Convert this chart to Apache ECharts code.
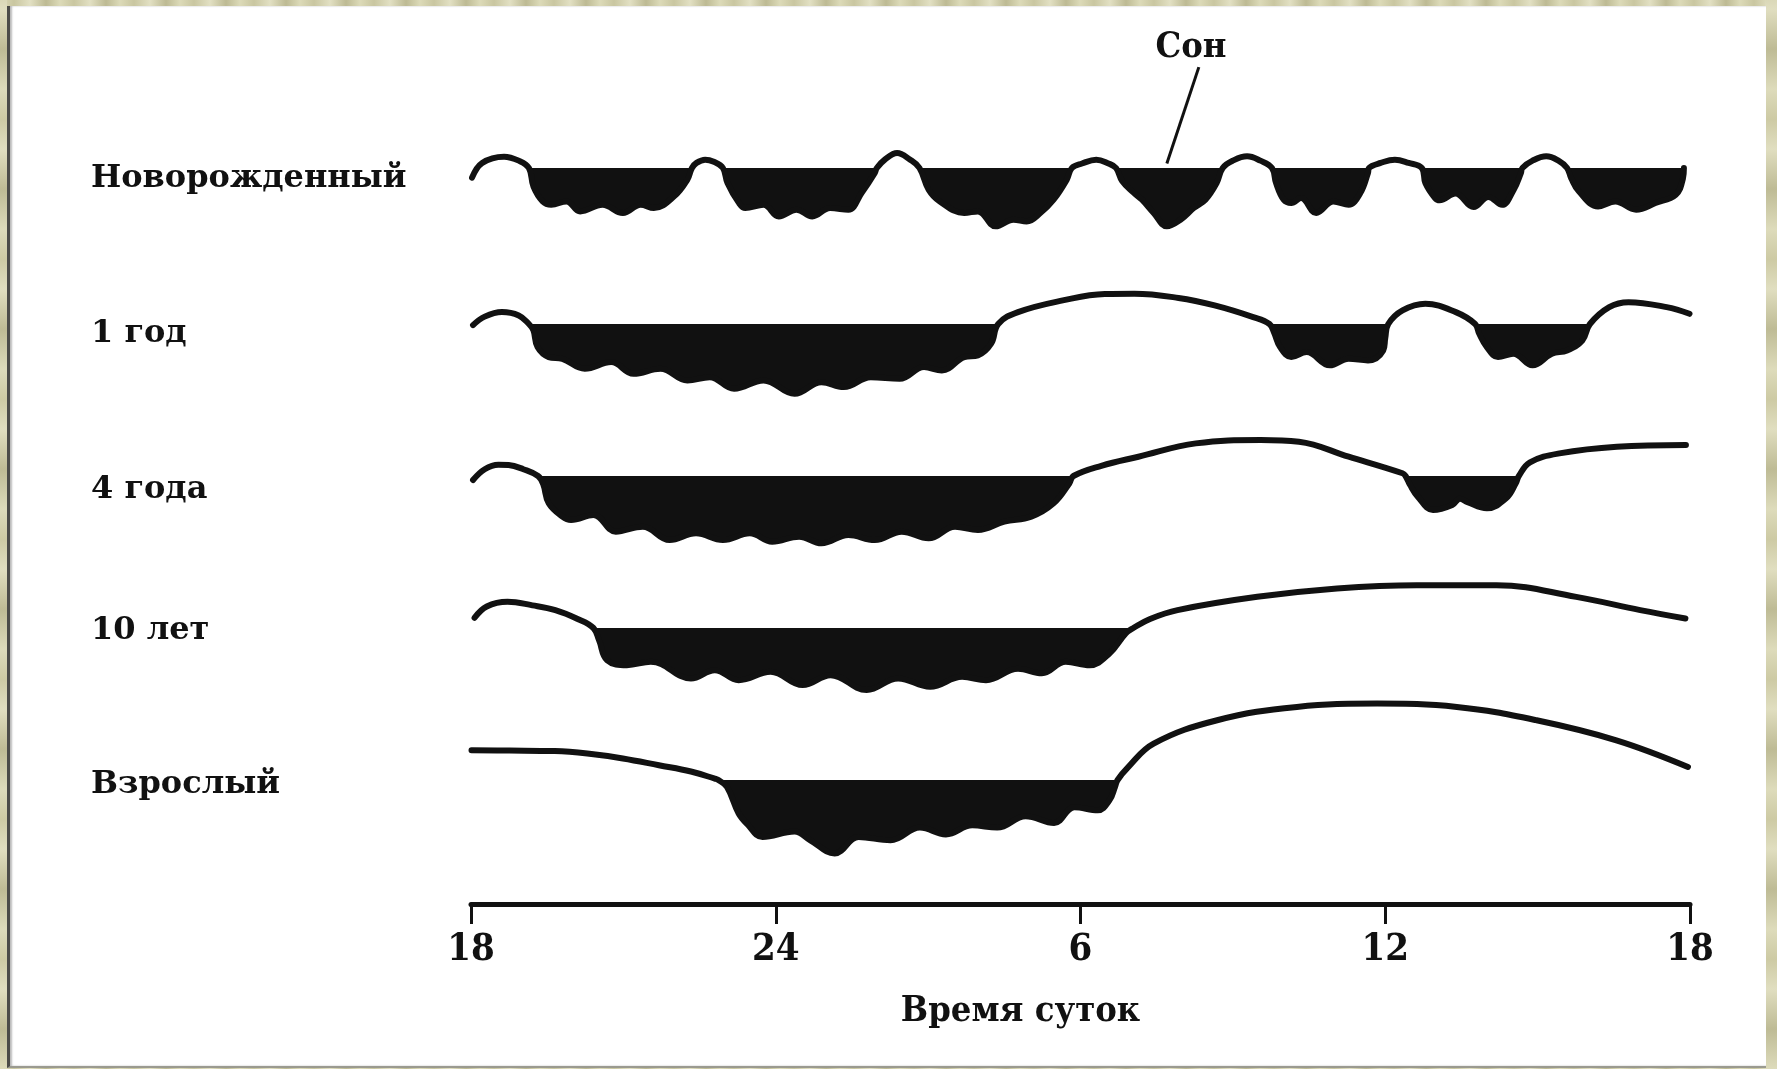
<!DOCTYPE html>
<html>
<head>
<meta charset="utf-8">
<title>Сон</title>
<script src="https://cdn.jsdelivr.net/npm/echarts/dist/echarts.min.js"></script>
<style>
html, body { margin: 0; padding: 0; width: 1777px; height: 1069px; overflow: hidden; }
body {
    background: repeating-linear-gradient(90deg, #dcdab8 0px, #c9c6a0 14px, #e2e0c3 30px, #bdba93 46px, #dcdab8 60px);
}
.band { position: absolute; top: 0; height: 1069px;
    background: repeating-linear-gradient(0deg, #dddbbb 0px, #bebb95 40px, #e0dec0 80px, #cdcaa4 110px, #dddbbb 140px); }
.panel { position: absolute; left: 7px; top: 6px; width: 1756px; height: 1060px; background: #fff;
    border-left: 3px solid #4b4b48; box-shadow: inset 2px 0 2px #bbb; border-bottom: 2px solid #9a9a90; }
#chart { position: absolute; left: 0; top: 0; width: 1777px; height: 1069px; }
</style>
</head>
<body>
<div class="band" style="left:0;width:7px"></div>
<div class="band" style="left:1765px;width:12px"></div>
<div class="panel"></div>
<div id="chart"></div>
<script>
// возраст (подписи строк)
var rowNames = ['Новорожденный', '1 год', '4 года', '10 лет', 'Взрослый'];
// подписи оси времени: часы от 18:00 до 18:00
var tickLabels = ['18', '24', '6', '12', '18'];

// [часы от 18:00, уровень]; уровень > 0 - бодрствование, < 0 - сон
var newborn = [
    [0.02, -8.5], [0.22, 4.5], [0.65, 10], [0.94, 6.5], [1.14, 0],
    [1.23, -16.5], [1.41, -29.5], [1.58, -32.4], [1.88, -29.5], [2.15, -38.3], [2.59, -32.4], [2.99, -39.7], [3.34, -32.4], [3.60, -35.3], [4.00, -25], [4.26, -10.3], [4.35, 0],
    [4.44, 4.5], [4.61, 7.3], [4.78, 5.5], [4.96, 0],
    [5.05, -13.3], [5.27, -30.5], [5.40, -35.3], [5.76, -32.4], [6.06, -42.7], [6.41, -36.8], [6.72, -42.7], [7.07, -35.3], [7.43, -36.8], [7.69, -22.1], [7.95, -4.4], [7.99, 0],
    [8.15, 7.5], [8.39, 13.2], [8.64, 7.5], [8.83, 0],
    [9.01, -19.1], [9.23, -29.5], [9.71, -39.7], [9.98, -38.3], [10.33, -51.5], [10.68, -45.6], [10.94, -47.1], [11.21, -39.7], [11.47, -28], [11.73, -10.3], [11.83, 0],
    [12.03, 4], [12.31, 7.3], [12.55, 4], [12.70, 0],
    [12.82, -11.5], [13.04, -21.5], [13.21, -28], [13.44, -39.7], [13.70, -51.5], [13.97, -45.6], [14.23, -35.3], [14.46, -28], [14.68, -13.3], [14.80, 0],
    [15.00, 6.5], [15.28, 10.3], [15.54, 6.5], [15.77, 0],
    [15.85, -13.3], [16.00, -28], [16.15, -30.9], [16.34, -26.5], [16.64, -39.7], [16.98, -29.5], [17.28, -32.4], [17.51, -22.1], [17.66, -4.4], [17.68, 0],
    [17.91, 4.5], [18.19, 7.3], [18.46, 4.5], [18.72, 0],
    [18.79, -13.3], [18.98, -26.5], [19.07, -28.5], [19.38, -22.5], [19.74, -34.5], [20.03, -25.5], [20.30, -32.5], [20.53, -19.1], [20.67, -4.5], [20.70, 0],
    [20.90, 6.5], [21.17, 10.3], [21.41, 6.5], [21.58, 0],
    [21.66, -8.9], [21.81, -20.5], [22.19, -33.9], [22.53, -29.5], [22.94, -36.8], [23.32, -30.9], [23.72, -23.5], [23.86, -9.5], [23.88, 0]
];
var year1 = [
    [0.04, -1], [0.27, 6.5], [0.61, 10.5], [0.94, 7.5], [1.14, 0],
    [1.23, -5.7], [1.31, -20.4], [1.53, -29.2], [1.80, -30.7], [2.24, -39.5], [2.76, -33.6], [3.20, -43.9], [3.73, -39.5], [4.26, -49.8], [4.70, -46.9], [5.18, -57.1], [5.76, -49.8], [6.37, -61.6], [6.90, -51.3], [7.34, -55.7], [7.87, -46.9], [8.44, -48.3], [8.92, -38], [9.27, -41], [9.71, -29.2], [9.98, -27.7], [10.24, -17.4], [10.38, 0],
    [10.77, 10.5], [11.65, 20.8], [12.48, 26.5], [13.06, 26.7], [13.93, 23], [14.64, 16.4], [15.40, 6.1], [15.72, 0],
    [15.81, -7.5], [15.93, -20.4], [16.15, -29.2], [16.45, -24.8], [16.91, -36.5], [17.28, -30.7], [17.66, -32.1], [17.96, -23.3], [18.00, -12.5], [18.06, 0],
    [18.34, 12], [18.79, 17.9], [19.39, 10.5], [19.77, 0],
    [19.85, -8.6], [20.00, -20.4], [20.22, -29.2], [20.52, -26.3], [20.90, -36.5], [21.28, -26.3], [21.58, -23.3], [21.88, -14.5], [22.03, 0],
    [22.41, 14.9], [22.79, 19.3], [23.54, 14.9], [23.99, 9]
];
var year4 = [
    [0.04, -3.5], [0.27, 6], [0.54, 10], [0.74, 9.7], [1.03, 6], [1.32, 0],
    [1.42, -7], [1.53, -24.1], [1.80, -35.9], [1.97, -38.8], [2.41, -34.4], [2.85, -49.1], [3.38, -44.7], [3.91, -56.5], [4.43, -50.6], [4.96, -56.5], [5.49, -50.6], [5.93, -58], [6.46, -53.5], [6.90, -59.4], [7.43, -52.1], [7.95, -56.5], [8.48, -49.1], [9.01, -55], [9.53, -44.7], [9.98, -47.6], [10.50, -40.3], [11.03, -35.9], [11.47, -24.1], [11.78, -6.5], [11.86, 0],
    [12.41, 9], [13.14, 17], [14.27, 28.8], [15.55, 31.8], [16.30, 30.3], [17.28, 17], [18.34, 2.4], [18.40, 0],
    [18.49, -8], [18.64, -18.2], [18.94, -30], [19.32, -25.6], [19.47, -20], [19.62, -23], [20.00, -28.5], [20.38, -19.7], [20.57, -6.5], [20.63, 0],
    [20.85, 12], [21.43, 20], [22.56, 25.9], [23.92, 27.4]
];
var year10 = [
    [0.07, 9], [0.31, 19], [0.72, 23.1], [1.21, 20], [1.66, 15.8], [2.10, 8], [2.41, 0],
    [2.52, -10.7], [2.68, -28.4], [3.07, -32.8], [3.54, -29.8], [4.33, -44.5], [4.80, -37.2], [5.27, -46], [5.90, -38.7], [6.53, -50.4], [7.08, -41.6], [7.79, -54.8], [8.41, -44.5], [9.04, -51.9], [9.67, -43.1], [10.14, -46], [10.77, -36], [11.24, -40], [11.71, -29.8], [12.18, -32.8], [12.57, -22.5], [12.89, -4.8], [13.04, 0],
    [13.37, 8], [13.91, 15.8], [15.48, 27.5], [17.05, 34.9], [18.62, 37.8], [20.19, 37.8], [21.76, 27.5], [23.02, 15.8], [23.91, 8.4]
];
var adult = [
    [0.01, 26.2], [0.76, 26], [1.65, 25.5], [2.29, 23.3], [2.99, 19], [3.70, 13], [4.33, 7.5], [4.80, 1.2], [4.87, 0],
    [5.04, -6.1], [5.27, -29.6], [5.43, -38.5], [5.74, -50.3], [6.37, -45.5], [6.68, -53.2], [7.16, -64.9], [7.63, -50.3], [8.26, -53.2], [8.84, -42], [9.35, -48], [9.87, -40], [10.36, -42], [10.92, -32], [11.48, -38], [11.88, -24], [12.34, -26.7], [12.57, -17.9], [12.68, -6], [12.73, 0],
    [12.93, 11], [13.44, 32.1], [14.69, 52.7], [16.26, 64.5], [17.84, 67.4], [19.41, 64.5], [20.98, 52.7], [22.55, 35], [23.96, 11.5]
];
// выноска "Сон" (от блока сна вверх к подписи)
var sonPointer = [[13.70, 4], [14.33, 89]];

var rows = [newborn, year1, year4, year10, adult];

// раскладка: базовая линия каждой строки (px) и положение подписей
var rowBase = [168, 324, 476, 628, 780];
var labelY = [179, 334, 490, 631, 785];
var yMin = -70, yMax = 100, pxPerUnit = 1.1333;
var plotLeft = 471, plotRight = 87;

var black = '#111';
var grids = [], xAxes = [], yAxes = [], series = [], graphics = [];

rows.forEach(function (data, i) {
    grids.push({
        left: plotLeft, right: plotRight,
        top: rowBase[i] - yMax * pxPerUnit,
        height: (yMax - yMin) * pxPerUnit
    });
    xAxes.push({ gridIndex: i, type: 'value', min: 0, max: 24, show: false });
    yAxes.push({ gridIndex: i, type: 'value', min: yMin, max: yMax, show: false });
    // кривая бодрствования / сна
    series.push({
        type: 'line', xAxisIndex: i, yAxisIndex: i, data: data,
        smooth: 0.4, showSymbol: false, silent: true, z: 3,
        lineStyle: { color: black, width: 6, cap: 'round', join: 'round' },
        markLine: i === 0 ? {
            silent: true, symbol: ['none', 'none'], label: { show: false },
            lineStyle: { color: black, width: 3, type: 'solid' },
            data: [[{ coord: sonPointer[0] }, { coord: sonPointer[1] }]]
        } : undefined
    });
    // закрашенные периоды сна (только ниже базовой линии)
    series.push({
        type: 'line', xAxisIndex: i, yAxisIndex: i,
        data: data.map(function (p) { return p[1] > 0 ? [p[0], '-'] : p; }),
        smooth: 0.4, showSymbol: false, silent: true, z: 2,
        lineStyle: { width: 0 },
        areaStyle: { color: black, opacity: 1 }
    });
    graphics.push({
        type: 'text', x: 91, y: labelY[i],
        style: {
            text: rowNames[i], fill: black, fontSize: 32, fontWeight: 'bold',
            fontFamily: 'DejaVu Serif', verticalAlign: 'middle'
        }
    });
});

// ось времени суток
grids.push({ left: plotLeft, right: plotRight, top: 850, height: 54 });
xAxes.push({
    gridIndex: 5, type: 'value', min: 0, max: 24, interval: 6, position: 'bottom',
    axisLine: { show: true, lineStyle: { color: black, width: 5 } },
    axisTick: { show: true, length: 20, lineStyle: { color: black, width: 3 } },
    splitLine: { show: false },
    axisLabel: {
        color: black, fontSize: 38, fontWeight: 'bold', fontFamily: 'DejaVu Serif Condensed', margin: 27,
        formatter: function (v) { return tickLabels[v / 6]; }
    },
    name: 'Время суток', nameLocation: 'middle', nameGap: 90,
    nameTextStyle: {
        color: black, fontSize: 36, fontWeight: 'bold', fontFamily: 'DejaVu Serif Condensed',
        padding: [0, 120, 0, 0]
    }
});
yAxes.push({ gridIndex: 5, type: 'value', show: false });

graphics.push({
    type: 'text', x: 1191, y: 48,
    style: {
        text: 'Сон', fill: black, fontSize: 36, fontWeight: 'bold',
        fontFamily: 'DejaVu Serif Condensed', align: 'center', verticalAlign: 'middle'
    }
});

var myChart = echarts.init(document.getElementById('chart'));
var option = {
    backgroundColor: 'transparent',
    animation: false,
    grid: grids,
    xAxis: xAxes,
    yAxis: yAxes,
    series: series,
    graphic: graphics
};
myChart.setOption(option);
window.addEventListener('resize', function () {
    myChart.resize();
});
</script>
</body>
</html>
